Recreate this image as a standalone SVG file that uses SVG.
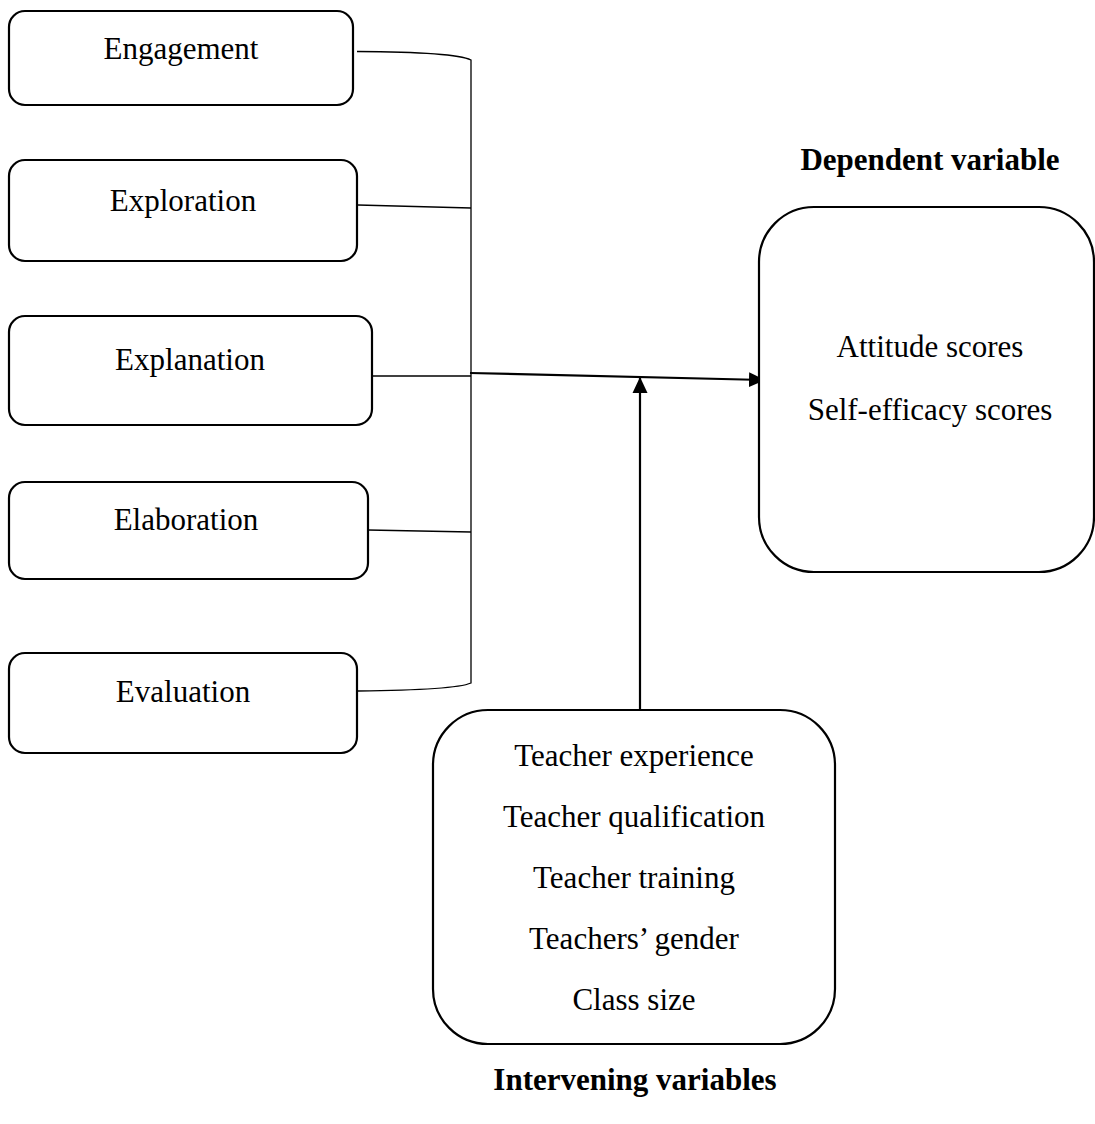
<svg xmlns="http://www.w3.org/2000/svg" width="1095" height="1124" viewBox="0 0 1095 1124">
<defs>
<style>
.box{fill:#fff;stroke:#000;stroke-width:2.2}
.t{font-family:"Liberation Serif","Times New Roman",serif;font-size:31px;text-anchor:middle;fill:#000}
.h{font-family:"Liberation Serif","Times New Roman",serif;font-size:31px;font-weight:bold;text-anchor:middle;fill:#000}
.thin{fill:none;stroke:#000;stroke-width:1.3}
.arr{fill:none;stroke:#000;stroke-width:2.2}
</style>
<marker id="ah" viewBox="0 0 16 16" refX="15" refY="8" markerWidth="16" markerHeight="16" orient="auto" markerUnits="userSpaceOnUse">
<path d="M0,0.5 L16,8 L0,15.5 z" fill="#000"/>
</marker>
</defs>
<rect width="1095" height="1124" fill="#fff"/>
<g id="connectors">
<path class="thin" d="M357,51.5 Q455,52 471,60 L471,683 Q455,690 358,691"/>
<path class="thin" d="M358,205 L471,208"/>
<path class="thin" d="M372,376 L471,376"/>
<path class="thin" d="M368,530 L471,532"/>
<path class="arr" d="M470,373 L764,380" marker-end="url(#ah)"/>
<path class="arr" d="M640,712 L640,378" marker-end="url(#ah)"/>
</g>
<g id="engagement"><rect class="box" x="9" y="11" width="344" height="94" rx="16"/><text class="t" x="181" y="59">Engagement</text></g>
<g id="exploration"><rect class="box" x="9" y="160" width="348" height="101" rx="16"/><text class="t" x="183" y="211">Exploration</text></g>
<g id="explanation"><rect class="box" x="9" y="316" width="363" height="109" rx="16"/><text class="t" x="190" y="370">Explanation</text></g>
<g id="elaboration"><rect class="box" x="9" y="482" width="359" height="97" rx="16"/><text class="t" x="186" y="530">Elaboration</text></g>
<g id="evaluation"><rect class="box" x="9" y="653" width="348" height="100" rx="16"/><text class="t" x="183" y="702">Evaluation</text></g>
<g id="dependent">
<text class="h" x="930" y="170">Dependent variable</text>
<rect class="box" x="759" y="207" width="335" height="365" rx="55"/>
<text class="t" x="930" y="357">Attitude scores</text>
<text class="t" x="930" y="420">Self-efficacy scores</text>
</g>
<g id="intervening">
<rect class="box" x="433" y="710" width="402" height="334" rx="55"/>
<text class="t" x="634" y="766">Teacher experience</text>
<text class="t" x="634" y="827">Teacher qualification</text>
<text class="t" x="634" y="888">Teacher training</text>
<text class="t" x="634" y="949">Teachers’ gender</text>
<text class="t" x="634" y="1010">Class size</text>
<text class="h" x="635" y="1090">Intervening variables</text>
</g>
</svg>
